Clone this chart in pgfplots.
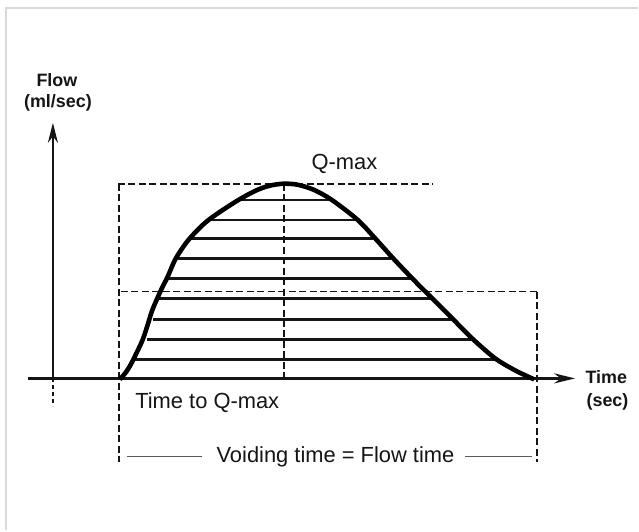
\documentclass[border=0pt]{standalone}
\usepackage{pgfplots}
\pgfplotsset{compat=1.18}
\usepackage{fontspec}
\setmainfont{Liberation Sans}
\usetikzlibrary{arrows.meta}
\definecolor{frame}{HTML}{D9D9D9}
\definecolor{ink}{HTML}{151515}
\begin{document}
\begin{tikzpicture}
\begin{axis}[
  width=639bp, height=531bp, scale only axis,
  xmin=0, xmax=639, ymin=0, ymax=531, y dir=reverse,
  hide axis, clip=false,
  dashline/.style={ink, line width=1.9bp, dash pattern=on 7bp off 3.5bp},
  hatch/.style={ink, line width=2.3bp},
]
% bounding corners and frame
\addplot[draw=none] coordinates {(0,0) (639,531)};
\addplot[frame, line width=2bp] coordinates {(6,531) (6,8) (639,8)};

% hatching
\addplot[hatch] coordinates {(236,200) (331,200)};
\addplot[hatch] coordinates {(211,220) (357,220)};
\addplot[hatch] coordinates {(191,239) (374,239)};
\addplot[hatch] coordinates {(178,259) (392,259)};
\addplot[hatch] coordinates {(168,279) (412,279)};
\addplot[hatch] coordinates {(159,299) (432,299)};
\addplot[hatch] coordinates {(153,320) (452,320)};
\addplot[hatch] coordinates {(147,340) (472,340)};
\addplot[hatch] coordinates {(134,360) (496,360)};

% dashed reference lines
\addplot[dashline] coordinates {(118,184) (434,184)};
\addplot[dashline] coordinates {(119,184) (119,463)};
\addplot[dashline] coordinates {(284,184) (284,379)};
\addplot[dashline] coordinates {(121,292) (538,292)};
\addplot[dashline] coordinates {(538,292) (538,463)};
\addplot[ink, line width=1.5bp, dash pattern=on 4bp off 3bp] coordinates {(53,379) (53,407)};

% axes
\addplot[ink, line width=2.8bp, -{Stealth[length=20bp,width=10bp]}] coordinates {(53,379) (53,123)};
\addplot[ink, line width=2.8bp, -{Stealth[length=21bp,width=10bp]}] coordinates {(28,379) (576,379)};

% flow curve
\addplot[black, line width=4.6bp, smooth, tension=0.5] coordinates {
 (120,380) (126,373) (131,365) (137,353) (143,340) (148,325) (152,312)
 (157,300) (162,289) (168,277) (176,259) (189,240) (208,221) (236,202)
 (256,191) (270,186) (284,184) (298,185) (314,190) (332,200) (358,220)
 (376,239) (394,259) (414,280) (434,300) (454,320) (474,340) (496,359)
 (516,371) (535,380)};

% bottom guide lines
\addplot[ink!70, line width=1.1bp] coordinates {(127,457) (202,457)};
\addplot[ink!70, line width=1.1bp] coordinates {(466,457) (533,457)};

% texts
\node[ink, font=\fontsize{18}{20}\selectfont\bfseries] at (axis cs:57,80) {Flow};
\node[ink, font=\fontsize{18}{20}\selectfont\bfseries] at (axis cs:58,103) {(ml/sec)};
\node[ink, font=\fontsize{18}{20}\selectfont\bfseries, anchor=west] at (axis cs:583,378) {Time};
\node[ink, font=\fontsize{18}{20}\selectfont\bfseries, anchor=west] at (axis cs:584,402) {(sec)};
\node[ink, font=\fontsize{22}{24}\selectfont] at (axis cs:345,164) {Q-max};
\node[ink, font=\fontsize{22}{24}\selectfont, anchor=west] at (axis cs:132,403) {Time to Q-max};
\node[ink, font=\fontsize{22}{24}\selectfont] at (axis cs:336,458) {Voiding time = Flow time};
\end{axis}
\end{tikzpicture}
\end{document}
